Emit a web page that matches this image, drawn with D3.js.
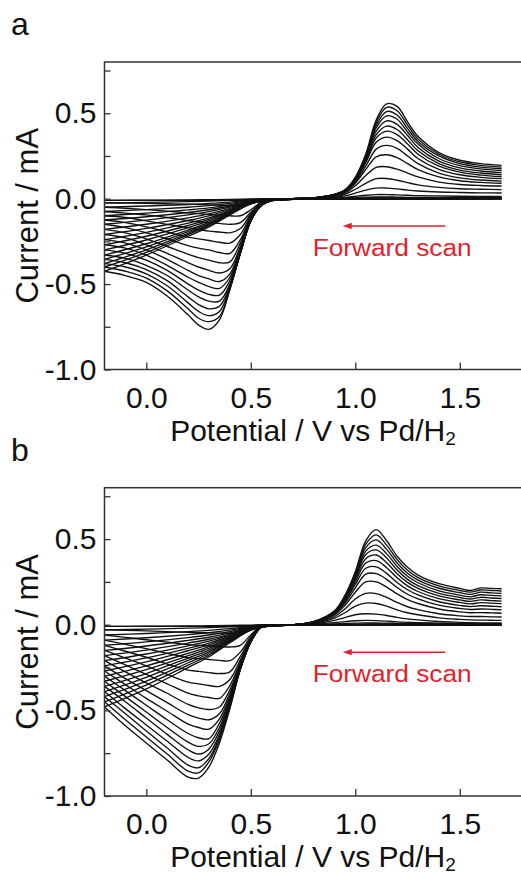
<!DOCTYPE html>
<html>
<head>
<meta charset="utf-8">
<script src="https://cdn.jsdelivr.net/npm/d3@7"></script>
<style>
    body { margin: 0; background: #fff; }
    svg { display: block; font-family: "Liberation Sans", Arial, sans-serif; }
</style>
</head>
<body>
<div id="chart"></div>
<script>
// potentials (V vs Pd/H2) where currents were read
const potentialsFwd = [1.7, 1.0, 0.8, 0.7, 0.6, 0.55, 0.5, 0.45, 0.4, 0.35, 0.3, 0.25, 0.2, 0.1, 0.0, -0.1, -0.2];
const potentialsRevA = [-0.2, 0.0, 0.2, 0.3, 0.4, 0.5, 0.6, 0.7, 0.8, 0.9, 0.95, 1.0, 1.05, 1.1, 1.15, 1.2, 1.25, 1.3, 1.4, 1.5, 1.6, 1.7];
const potentialsRevB = [-0.2, 0.0, 0.2, 0.3, 0.4, 0.5, 0.6, 0.7, 0.8, 0.9, 0.95, 1.0, 1.05, 1.1, 1.15, 1.2, 1.25, 1.3, 1.4, 1.5, 1.55, 1.6, 1.65, 1.7];

// panel a, forward (cathodic) scans, current in mA, cycle 1..17
const fwdA = [
    [0, 0, 0, -0.001, -0.002, -0.004, -0.008, -0.01, -0.01, -0.01, -0.01, -0.01, -0.01, -0.01, -0.01, -0.01, -0.01],
    [0, 0, 0, -0.001, -0.004, -0.01, -0.03, -0.04, -0.04, -0.038, -0.036, -0.034, -0.032, -0.03, -0.028, -0.026, -0.025],
    [0, 0, 0, -0.002, -0.006, -0.02, -0.065, -0.1, -0.1, -0.097, -0.093, -0.088, -0.083, -0.073, -0.064, -0.056, -0.05],
    [0, 0, -0.001, -0.002, -0.007, -0.024, -0.08, -0.14, -0.15, -0.145, -0.14, -0.135, -0.128, -0.11, -0.095, -0.085, -0.075],
    [0.001, 0, -0.001, -0.003, -0.008, -0.027, -0.09, -0.175, -0.2, -0.195, -0.19, -0.18, -0.17, -0.15, -0.13, -0.11, -0.1],
    [0.001, 0, -0.001, -0.003, -0.009, -0.03, -0.1, -0.21, -0.26, -0.255, -0.245, -0.235, -0.225, -0.195, -0.165, -0.14, -0.125],
    [0.001, 0, -0.001, -0.003, -0.01, -0.034, -0.11, -0.24, -0.32, -0.315, -0.3, -0.29, -0.275, -0.235, -0.2, -0.17, -0.15],
    [0.001, 0, -0.001, -0.004, -0.01, -0.036, -0.115, -0.26, -0.37, -0.375, -0.36, -0.345, -0.325, -0.28, -0.235, -0.2, -0.18],
    [0.002, 0, -0.001, -0.004, -0.01, -0.038, -0.12, -0.28, -0.41, -0.435, -0.42, -0.4, -0.375, -0.32, -0.27, -0.23, -0.21],
    [0.002, 0, -0.001, -0.004, -0.011, -0.04, -0.125, -0.29, -0.44, -0.485, -0.47, -0.45, -0.42, -0.355, -0.3, -0.26, -0.24],
    [0.002, 0, -0.001, -0.004, -0.011, -0.04, -0.13, -0.3, -0.46, -0.525, -0.515, -0.49, -0.46, -0.39, -0.33, -0.29, -0.27],
    [0.002, 0, -0.001, -0.004, -0.011, -0.04, -0.13, -0.31, -0.48, -0.565, -0.56, -0.535, -0.5, -0.42, -0.36, -0.32, -0.3],
    [0.002, 0, -0.001, -0.004, -0.012, -0.04, -0.13, -0.315, -0.5, -0.6, -0.6, -0.575, -0.535, -0.45, -0.39, -0.35, -0.33],
    [0.002, 0, -0.001, -0.004, -0.012, -0.04, -0.13, -0.32, -0.51, -0.63, -0.645, -0.62, -0.575, -0.48, -0.415, -0.375, -0.355],
    [0.002, 0, -0.001, -0.004, -0.012, -0.04, -0.13, -0.32, -0.52, -0.66, -0.685, -0.66, -0.61, -0.51, -0.44, -0.4, -0.38],
    [0.002, 0, -0.001, -0.004, -0.012, -0.04, -0.13, -0.32, -0.53, -0.69, -0.72, -0.7, -0.645, -0.54, -0.465, -0.425, -0.4],
    [0.002, 0, -0.001, -0.004, -0.012, -0.04, -0.13, -0.32, -0.53, -0.71, -0.765, -0.74, -0.68, -0.57, -0.49, -0.45, -0.425]
];

// panel a, reverse (anodic) scans
const revA = [
    [-0.01, -0.009, -0.007, -0.006, -0.004, -0.002, 0, 0, 0, 0, 0, 0.001, 0.001, 0.001, 0.001, 0.001, 0.001, 0.001, 0.001, 0.001, 0.001, 0.001],
    [-0.025, -0.022, -0.017, -0.014, -0.01, -0.004, -0.001, 0, 0.001, 0.001, 0.002, 0.003, 0.004, 0.004, 0.004, 0.004, 0.004, 0.003, 0.003, 0.003, 0.003, 0.003],
    [-0.05, -0.043, -0.034, -0.028, -0.02, -0.008, -0.002, 0, 0, 0.002, 0.004, 0.007, 0.009, 0.01, 0.01, 0.009, 0.008, 0.008, 0.007, 0.006, 0.006, 0.006],
    [-0.075, -0.064, -0.05, -0.041, -0.028, -0.011, -0.002, 0, 0.001, 0.004, 0.008, 0.014, 0.02, 0.024, 0.024, 0.022, 0.02, 0.018, 0.016, 0.014, 0.013, 0.013],
    [-0.1, -0.085, -0.066, -0.054, -0.036, -0.014, -0.003, 0, 0.001, 0.008, 0.016, 0.033, 0.05, 0.062, 0.062, 0.057, 0.05, 0.045, 0.039, 0.036, 0.034, 0.033],
    [-0.125, -0.106, -0.081, -0.065, -0.043, -0.016, -0.003, 0, 0.002, 0.012, 0.025, 0.055, 0.09, 0.117, 0.118, 0.108, 0.094, 0.081, 0.066, 0.058, 0.055, 0.053],
    [-0.15, -0.126, -0.095, -0.076, -0.05, -0.018, -0.004, 0, 0.003, 0.015, 0.032, 0.075, 0.135, 0.183, 0.187, 0.173, 0.15, 0.127, 0.097, 0.083, 0.077, 0.074],
    [-0.18, -0.15, -0.112, -0.089, -0.057, -0.02, -0.004, 0, 0.003, 0.018, 0.038, 0.09, 0.17, 0.245, 0.257, 0.24, 0.205, 0.17, 0.127, 0.105, 0.095, 0.09],
    [-0.21, -0.174, -0.128, -0.101, -0.064, -0.022, -0.005, 0, 0.004, 0.02, 0.042, 0.098, 0.19, 0.29, 0.312, 0.295, 0.25, 0.205, 0.15, 0.122, 0.109, 0.103],
    [-0.24, -0.197, -0.143, -0.112, -0.07, -0.024, -0.005, 0, 0.004, 0.021, 0.044, 0.104, 0.21, 0.33, 0.36, 0.34, 0.29, 0.235, 0.172, 0.14, 0.125, 0.117],
    [-0.27, -0.22, -0.157, -0.121, -0.075, -0.025, -0.005, 0, 0.004, 0.022, 0.046, 0.108, 0.22, 0.355, 0.395, 0.375, 0.32, 0.26, 0.19, 0.155, 0.138, 0.129],
    [-0.3, -0.242, -0.17, -0.13, -0.079, -0.026, -0.006, 0, 0.005, 0.023, 0.047, 0.112, 0.23, 0.375, 0.425, 0.405, 0.345, 0.28, 0.205, 0.167, 0.15, 0.14],
    [-0.33, -0.264, -0.183, -0.139, -0.083, -0.027, -0.006, 0, 0.005, 0.024, 0.048, 0.115, 0.24, 0.395, 0.455, 0.435, 0.37, 0.3, 0.22, 0.18, 0.162, 0.152],
    [-0.355, -0.282, -0.193, -0.146, -0.086, -0.028, -0.006, 0, 0.005, 0.024, 0.049, 0.118, 0.245, 0.415, 0.485, 0.465, 0.39, 0.32, 0.235, 0.193, 0.174, 0.164],
    [-0.38, -0.3, -0.203, -0.152, -0.089, -0.029, -0.006, 0, 0.005, 0.025, 0.05, 0.12, 0.25, 0.43, 0.51, 0.49, 0.41, 0.335, 0.25, 0.205, 0.185, 0.175],
    [-0.4, -0.315, -0.21, -0.158, -0.092, -0.03, -0.006, 0, 0.005, 0.025, 0.05, 0.122, 0.255, 0.445, 0.535, 0.515, 0.43, 0.35, 0.26, 0.215, 0.195, 0.185],
    [-0.425, -0.33, -0.22, -0.165, -0.095, -0.03, -0.006, 0, 0.005, 0.025, 0.05, 0.125, 0.26, 0.46, 0.555, 0.54, 0.45, 0.365, 0.27, 0.225, 0.205, 0.195]
];

// panel b, forward (cathodic) scans
const fwdB = [
    [0, 0, 0, -0.001, -0.001, -0.003, -0.007, -0.01, -0.01, -0.01, -0.01, -0.01, -0.01, -0.01, -0.01, -0.01, -0.01],
    [0, 0, 0, -0.001, -0.002, -0.006, -0.03, -0.05, -0.05, -0.049, -0.048, -0.046, -0.044, -0.04, -0.036, -0.033, -0.03],
    [0, 0, 0, -0.001, -0.003, -0.009, -0.06, -0.12, -0.13, -0.127, -0.124, -0.12, -0.116, -0.102, -0.088, -0.074, -0.06],
    [0, 0, 0, -0.002, -0.004, -0.011, -0.07, -0.16, -0.21, -0.208, -0.203, -0.198, -0.192, -0.167, -0.14, -0.115, -0.09],
    [0.001, 0, -0.001, -0.002, -0.004, -0.012, -0.08, -0.185, -0.275, -0.285, -0.28, -0.272, -0.265, -0.23, -0.19, -0.155, -0.12],
    [0.001, 0, -0.001, -0.002, -0.005, -0.013, -0.085, -0.205, -0.32, -0.36, -0.355, -0.345, -0.335, -0.29, -0.24, -0.195, -0.15],
    [0.001, 0, -0.001, -0.003, -0.005, -0.014, -0.09, -0.22, -0.355, -0.43, -0.425, -0.415, -0.4, -0.345, -0.29, -0.235, -0.18],
    [0.001, 0, -0.001, -0.003, -0.006, -0.015, -0.094, -0.23, -0.38, -0.48, -0.495, -0.485, -0.465, -0.4, -0.34, -0.275, -0.21],
    [0.002, 0, -0.001, -0.003, -0.006, -0.015, -0.096, -0.235, -0.4, -0.52, -0.555, -0.545, -0.525, -0.455, -0.385, -0.315, -0.24],
    [0.002, 0, -0.001, -0.003, -0.006, -0.015, -0.098, -0.24, -0.415, -0.55, -0.61, -0.6, -0.58, -0.505, -0.43, -0.35, -0.27],
    [0.002, 0, -0.001, -0.003, -0.006, -0.015, -0.1, -0.245, -0.43, -0.575, -0.665, -0.66, -0.635, -0.555, -0.47, -0.385, -0.3],
    [0.002, 0, -0.001, -0.003, -0.006, -0.015, -0.1, -0.25, -0.44, -0.6, -0.695, -0.71, -0.685, -0.6, -0.51, -0.42, -0.33],
    [0.002, 0, -0.001, -0.003, -0.006, -0.015, -0.1, -0.255, -0.45, -0.62, -0.725, -0.755, -0.73, -0.64, -0.545, -0.45, -0.36],
    [0.002, 0, -0.001, -0.003, -0.006, -0.015, -0.1, -0.26, -0.46, -0.64, -0.755, -0.795, -0.775, -0.68, -0.585, -0.49, -0.39],
    [0.002, 0, -0.001, -0.003, -0.006, -0.015, -0.1, -0.26, -0.47, -0.655, -0.78, -0.835, -0.82, -0.72, -0.62, -0.52, -0.42],
    [0.002, 0, -0.001, -0.003, -0.006, -0.015, -0.1, -0.26, -0.48, -0.67, -0.8, -0.865, -0.855, -0.755, -0.655, -0.555, -0.45],
    [0.002, 0, -0.001, -0.003, -0.006, -0.015, -0.1, -0.26, -0.49, -0.69, -0.83, -0.895, -0.89, -0.79, -0.69, -0.59, -0.48]
];

// panel b, reverse (anodic) scans
const revB = [
    [-0.01, -0.009, -0.007, -0.006, -0.004, -0.002, 0, 0, 0, 0.001, 0.001, 0.001, 0.001, 0.001, 0.001, 0.001, 0.001, 0.001, 0.001, 0.001, 0.001, 0.001, 0.001, 0.001],
    [-0.03, -0.026, -0.02, -0.017, -0.012, -0.005, -0.001, 0, 0.001, 0.002, 0.003, 0.003, 0.003, 0.003, 0.003, 0.003, 0.003, 0.002, 0.002, 0.002, 0.002, 0.002, 0.002, 0.002],
    [-0.06, -0.051, -0.04, -0.033, -0.023, -0.009, -0.002, 0, 0.002, 0.005, 0.007, 0.009, 0.01, 0.01, 0.009, 0.008, 0.007, 0.006, 0.005, 0.004, 0.004, 0.003, 0.003, 0.003],
    [-0.09, -0.076, -0.058, -0.047, -0.032, -0.012, -0.002, 0, 0.003, 0.012, 0.018, 0.023, 0.025, 0.024, 0.021, 0.017, 0.014, 0.012, 0.009, 0.007, 0.006, 0.006, 0.005, 0.005],
    [-0.12, -0.1, -0.075, -0.06, -0.04, -0.015, -0.003, 0, 0.005, 0.025, 0.042, 0.058, 0.064, 0.062, 0.054, 0.043, 0.034, 0.028, 0.019, 0.014, 0.012, 0.011, 0.01, 0.01],
    [-0.15, -0.124, -0.091, -0.073, -0.048, -0.017, -0.003, 0, 0.008, 0.038, 0.07, 0.108, 0.126, 0.124, 0.108, 0.087, 0.07, 0.058, 0.04, 0.031, 0.028, 0.027, 0.026, 0.025],
    [-0.18, -0.148, -0.107, -0.085, -0.055, -0.019, -0.004, 0, 0.01, 0.048, 0.092, 0.15, 0.183, 0.182, 0.16, 0.13, 0.105, 0.088, 0.064, 0.052, 0.048, 0.048, 0.046, 0.045],
    [-0.21, -0.171, -0.123, -0.096, -0.061, -0.021, -0.004, 0, 0.012, 0.057, 0.112, 0.19, 0.25, 0.25, 0.22, 0.18, 0.147, 0.124, 0.092, 0.075, 0.07, 0.071, 0.069, 0.067],
    [-0.24, -0.194, -0.138, -0.107, -0.067, -0.023, -0.005, 0, 0.013, 0.063, 0.125, 0.215, 0.295, 0.298, 0.265, 0.217, 0.178, 0.151, 0.114, 0.095, 0.089, 0.092, 0.09, 0.087],
    [-0.27, -0.217, -0.152, -0.118, -0.073, -0.025, -0.005, 0, 0.014, 0.067, 0.135, 0.235, 0.33, 0.338, 0.3, 0.247, 0.204, 0.174, 0.134, 0.113, 0.106, 0.111, 0.108, 0.105],
    [-0.3, -0.24, -0.167, -0.128, -0.078, -0.026, -0.005, 0, 0.015, 0.07, 0.143, 0.25, 0.36, 0.374, 0.333, 0.274, 0.227, 0.194, 0.152, 0.13, 0.122, 0.129, 0.126, 0.123],
    [-0.33, -0.262, -0.181, -0.138, -0.083, -0.027, -0.006, 0, 0.016, 0.073, 0.15, 0.265, 0.385, 0.407, 0.362, 0.298, 0.247, 0.212, 0.168, 0.145, 0.136, 0.145, 0.141, 0.138],
    [-0.36, -0.285, -0.195, -0.148, -0.088, -0.028, -0.006, 0, 0.016, 0.075, 0.155, 0.275, 0.41, 0.437, 0.39, 0.32, 0.265, 0.228, 0.183, 0.159, 0.15, 0.16, 0.156, 0.153],
    [-0.39, -0.307, -0.208, -0.158, -0.092, -0.029, -0.006, 0, 0.017, 0.077, 0.16, 0.285, 0.43, 0.465, 0.415, 0.34, 0.283, 0.245, 0.198, 0.173, 0.163, 0.175, 0.171, 0.168],
    [-0.42, -0.33, -0.222, -0.168, -0.097, -0.03, -0.006, 0, 0.017, 0.078, 0.164, 0.295, 0.45, 0.495, 0.44, 0.36, 0.3, 0.26, 0.213, 0.187, 0.177, 0.19, 0.186, 0.183],
    [-0.45, -0.352, -0.236, -0.178, -0.101, -0.031, -0.006, 0, 0.018, 0.079, 0.167, 0.3, 0.47, 0.525, 0.465, 0.38, 0.318, 0.275, 0.227, 0.2, 0.19, 0.203, 0.2, 0.197],
    [-0.48, -0.375, -0.25, -0.187, -0.105, -0.032, -0.006, 0, 0.018, 0.08, 0.17, 0.31, 0.49, 0.555, 0.49, 0.4, 0.335, 0.29, 0.24, 0.212, 0.2, 0.215, 0.212, 0.21]
];

const yTickValues = [-1.0, -0.75, -0.5, -0.25, 0.0, 0.25, 0.5, 0.75];
const yTickLabels = ['-1.0', '', '-0.5', '', '0.0', '', '0.5', ''];
const xTickValues = [0.0, 0.5, 1.0, 1.5];
const xTickLabels = ['0.0', '0.5', '1.0', '1.5'];
const panelLabels = ['a', 'b'];

const width = 521, height = 873;
const red = '#e21f2f';

const svg = d3.select('#chart').append('svg')
    .attr('width', width)
    .attr('height', height);

function drawPanel(i, top, bottom, fwd, rev, potentialsRev) {
    const x = d3.scaleLinear().domain([-0.2, 1.8]).range([104.5, 522.5]);
    const y = d3.scaleLinear().domain([-1.0, 0.8]).range([bottom, top]);
    const g = svg.append('g');

    g.append('clipPath').attr('id', 'clip' + i)
        .append('rect')
        .attr('x', x(-0.2)).attr('y', y(0.8))
        .attr('width', x(1.8) - x(-0.2)).attr('height', y(-1.0) - y(0.8));

    const line = d3.line()
        .x(d => x(d[0]))
        .y(d => y(d[1]))
        .curve(d3.curveCatmullRom.alpha(0.5));

    const curves = g.append('g').attr('clip-path', 'url(#clip' + i + ')');
    fwd.forEach(function(vals) {
        curves.append('path')
            .attr('d', line(potentialsFwd.map((e, j) => [e, vals[j]])))
            .attr('fill', 'none').attr('stroke', '#111').attr('stroke-width', 1.35);
    });
    rev.forEach(function(vals) {
        curves.append('path')
            .attr('d', line(potentialsRev.map((e, j) => [e, vals[j]])))
            .attr('fill', 'none').attr('stroke', '#111').attr('stroke-width', 1.35);
    });

    const yAxis = d3.axisLeft(y)
        .tickValues(yTickValues)
        .tickSize(-6)
        .tickPadding(8)
        .tickFormat((d, k) => yTickLabels[k]);
    const xAxis = d3.axisBottom(x)
        .tickValues(xTickValues)
        .tickSize(-7)
        .tickPadding(17)
        .tickFormat((d, k) => xTickLabels[k]);

    const ya = g.append('g').attr('transform', 'translate(' + x(-0.2) + ',0)').call(yAxis);
    const xa = g.append('g').attr('transform', 'translate(0,' + y(-1.0) + ')').call(xAxis);
    [ya, xa].forEach(function(a) {
        a.select('.domain').remove();
        a.selectAll('line').attr('stroke', '#333').attr('stroke-width', 1.3);
        a.selectAll('text').attr('font-size', 30).attr('fill', '#111')
            .attr('font-family', '"Liberation Sans", Arial, sans-serif');
    });

    // frame (right edge falls just outside the picture)
    g.append('rect')
        .attr('x', x(-0.2)).attr('y', y(0.8))
        .attr('width', x(1.8) - x(-0.2)).attr('height', y(-1.0) - y(0.8))
        .attr('fill', 'none').attr('stroke', '#333').attr('stroke-width', 1.5);

    g.append('text')
        .attr('transform', 'translate(38,' + (top + bottom) / 2 + ') rotate(-90)')
        .attr('text-anchor', 'middle')
        .attr('font-size', 31).attr('fill', '#111')
        .text('Current / mA');

    const xt = g.append('text')
        .attr('x', 313).attr('y', bottom + 71)
        .attr('text-anchor', 'middle')
        .attr('font-size', 30).attr('fill', '#111');
    xt.append('tspan').text('Potential / V vs Pd/H');
    xt.append('tspan').attr('font-size', 19).attr('dy', 4).text('2');

    g.append('text')
        .attr('x', 11).attr('y', top - 27)
        .attr('font-size', 32).attr('fill', '#111')
        .text(panelLabels[i]);

    // forward-scan arrow
    g.append('line')
        .attr('x1', x(1.43)).attr('x2', x(0.955))
        .attr('y1', y(-0.16)).attr('y2', y(-0.16))
        .attr('stroke', red).attr('stroke-width', 1.5);
    g.append('path')
        .attr('d', d3.line()([[x(0.94), y(-0.16)], [x(0.94) + 9, y(-0.16) - 3.2], [x(0.94) + 9, y(-0.16) + 3.2]]) + 'Z')
        .attr('fill', red);
    g.append('text')
        .attr('x', x(0.796)).attr('y', y(-0.333))
        .attr('font-size', 23).attr('fill', red)
        .attr('textLength', 159).attr('lengthAdjust', 'spacingAndGlyphs')
        .text('Forward scan');
}

drawPanel(0, 62, 369.5, fwdA, revA, potentialsRevA);
drawPanel(1, 487.7, 796, fwdB, revB, potentialsRevB);
</script>
</body>
</html>
